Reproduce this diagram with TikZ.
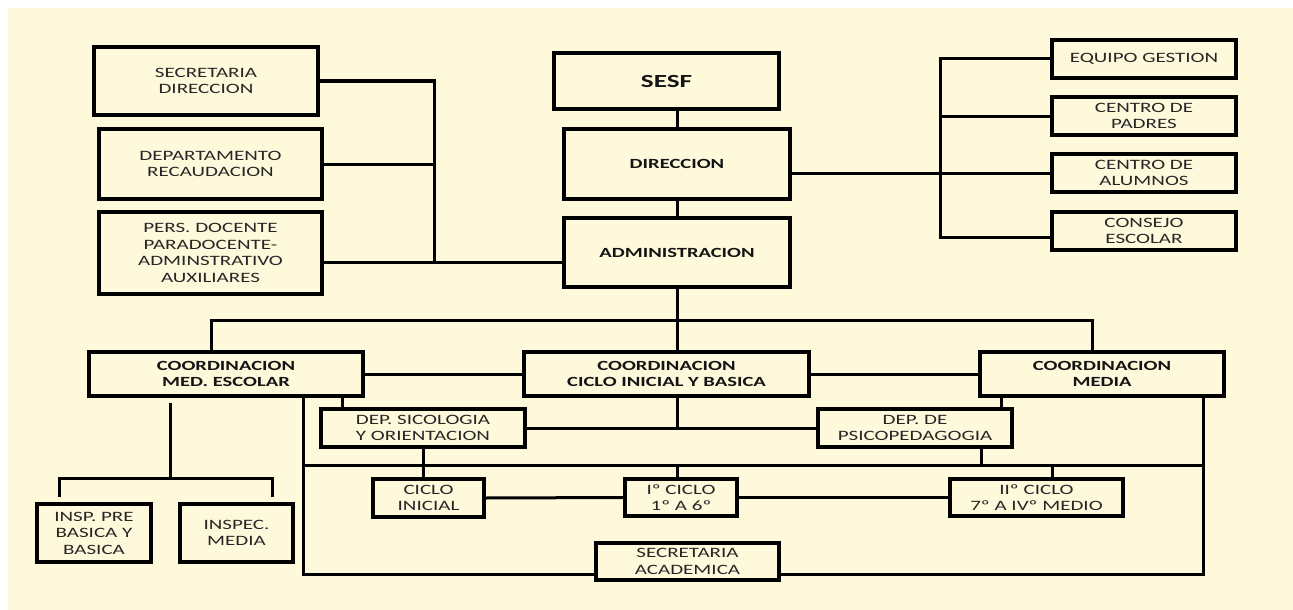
\documentclass[tikz,border=0pt]{standalone}
\usepackage{fontspec}
\setmainfont{Carlito}[FakeStretch=1.47]
\definecolor{cream}{HTML}{FFF9DC}
\definecolor{txt}{HTML}{262626}
\definecolor{txtb}{HTML}{141414}
\begin{document}
\begin{tikzpicture}[x=1pt,y=-1pt,
  box/.style={draw=black,line width=3.4pt,fill=cream,inner sep=0pt,align=center,text=txt,font=\fontsize{14.3}{16.5}\selectfont},
  bbox/.style={box,text=txtb,font=\bfseries\fontsize{14}{16}\selectfont},
  sz/.style 2 args={minimum width=#1pt,minimum height=#2pt},
  conn/.style={draw=black,line width=3pt}]
\useasboundingbox (0,0) rectangle (1293,610);
\fill[white] (0,0) rectangle (1293,610);
\fill[cream] (8,8) rectangle (1293,610);
% left column
\node[box,sz={224}{68}] (secdir) at (206,81) {SECRETARIA\\DIRECCION};
\node[box,sz={223}{70}] (deprec) at (210.5,164) {DEPARTAMENTO\\RECAUDACION};
\node[box,sz={223}{82}] (pers) at (210.5,253) {PERS. DOCENTE\\PARADOCENTE-\\ADMINSTRATIVO\\AUXILIARES};
% center column
\node[bbox,sz={225}{56},font=\bfseries\fontsize{18.5}{20}\selectfont] (sesf) at (666.5,81) {SESF};
\node[bbox,sz={226}{70}] (dir) at (677,164) {DIRECCION};
\node[bbox,sz={226}{69}] (adm) at (677,252.5) {ADMINISTRACION};
% right column
\node[box,sz={184}{38}] (equipo) at (1144,59) {EQUIPO GESTION};
\node[box,sz={184}{38}] (padres) at (1144,116) {CENTRO DE\\PADRES};
\node[box,sz={184}{38}] (alumnos) at (1144,173) {CENTRO DE\\ALUMNOS};
\node[box,sz={184}{38}] (consejo) at (1144,231) {CONSEJO\\ESCOLAR};
% coordinations
\node[bbox,sz={274}{44}] (cme) at (226,374) {COORDINACION\\MED. ESCOLAR};
\node[bbox,sz={285}{44}] (cci) at (666.5,374) {COORDINACION\\CICLO INICIAL Y BASICA};
\node[bbox,sz={244}{44}] (cm) at (1102,374) {COORDINACION\\MEDIA};
% departments
\node[box,sz={204}{38}] (dso) at (423,428) {DEP. SICOLOGIA\\Y ORIENTACION};
\node[box,sz={194}{38}] (dps) at (915,428) {DEP. DE\\PSICOPEDAGOGIA};
% cycles
\node[box,sz={111}{38}] (cin) at (428.5,498) {CICLO\\INICIAL};
\node[box,sz={112}{37}] (c1) at (681,497.5) {Iº CICLO\\1º A 6º};
\node[box,sz={173}{37}] (c2) at (1036.5,497.5) {IIº CICLO\\7º A IVº MEDIO};
\node[box,sz={183}{37}] (sa) at (687.5,561.5) {SECRETARIA\\ACADEMICA};
% inspectors
\node[box,sz={114}{58}] (ipb) at (94,533) {INSP. PRE\\BASICA Y\\BASICA};
\node[box,sz={113}{58}] (im) at (236.5,533) {INSPEC.\\MEDIA};
% ---- connectors ----
\coordinate (lbx) at (434,262);
\draw[conn] (secdir.east) -| (lbx);
\draw[conn] (deprec.east) -- (deprec.east -| lbx);
\draw[conn] (pers.east |- lbx) -- (adm.west |- lbx);
\draw[conn] (sesf.south -| dir.north) -- (dir.north);
\draw[conn] (dir.south) -- (adm.north);
\coordinate (rbt) at (940,59);
\coordinate (rbb) at (940,237);
\draw[conn] (equipo.west) -| (rbb) -- (consejo.west |- rbb);
\draw[conn] (padres.west) -- (padres.west -| rbt);
\draw[conn] (dir.east |- alumnos.west) -- (alumnos.west);
\coordinate (tl) at (211,320);
\coordinate (tr) at (1092,320);
\draw[conn] (adm.south) -- (adm.south |- cci.north);
\draw[conn] (tl |- cme.north) -- (tl) -- (tr) -- (tr |- cm.north);
\draw[conn] (cme.east) -- (cci.west);
\draw[conn] (cci.east) -- (cm.west);
\draw[conn] (adm.south |- cci.south) -- (adm.south |- dso.east);
\draw[conn] (dso.east) -- (dps.west);
\coordinate (xa) at (342,0);
\coordinate (xb) at (1001,0);
\coordinate (xc) at (981,0);
\coordinate (xd) at (1052,0);
\draw[conn] (cme.south -| xa) -- (dso.north -| xa);
\draw[conn] (cm.south -| xb) -- (dps.north -| xb);
\draw[conn] (dso.south) -- (dso.south |- cin.north);
\coordinate (bl) at (303,465);
\coordinate (br) at (1203,465);
\draw[conn] (bl) -- (br);
\draw[conn] (dps.south -| xc) -- (xc |- bl);
\coordinate (bbl) at (303,574);
\coordinate (bbr) at (1203,574);
\draw[conn] (cme.south -| bbl) -- (bbl) -- (sa.west |- bbl);
\draw[conn] (sa.east |- bbr) -- (bbr) -- (cm.south -| bbr);
\draw[conn] (adm.south |- bl) -- (adm.south |- c1.north);
\draw[conn] (xd |- bl) -- (xd |- c2.north);
\draw[conn] (cin.east) -- (c1.west);
\draw[conn] (c1.east) -- (c2.west);
\coordinate (ia) at (170,403);
\coordinate (ib) at (170,478);
\coordinate (il) at (59,478);
\coordinate (ir) at (272,478);
\coordinate (ild) at (59,497);
\coordinate (ird) at (272,497);
\draw[conn] (ia) -- (ib);
\draw[conn] (ild) -- (il) -- (ir) -- (ird);
\end{tikzpicture}
\end{document}
